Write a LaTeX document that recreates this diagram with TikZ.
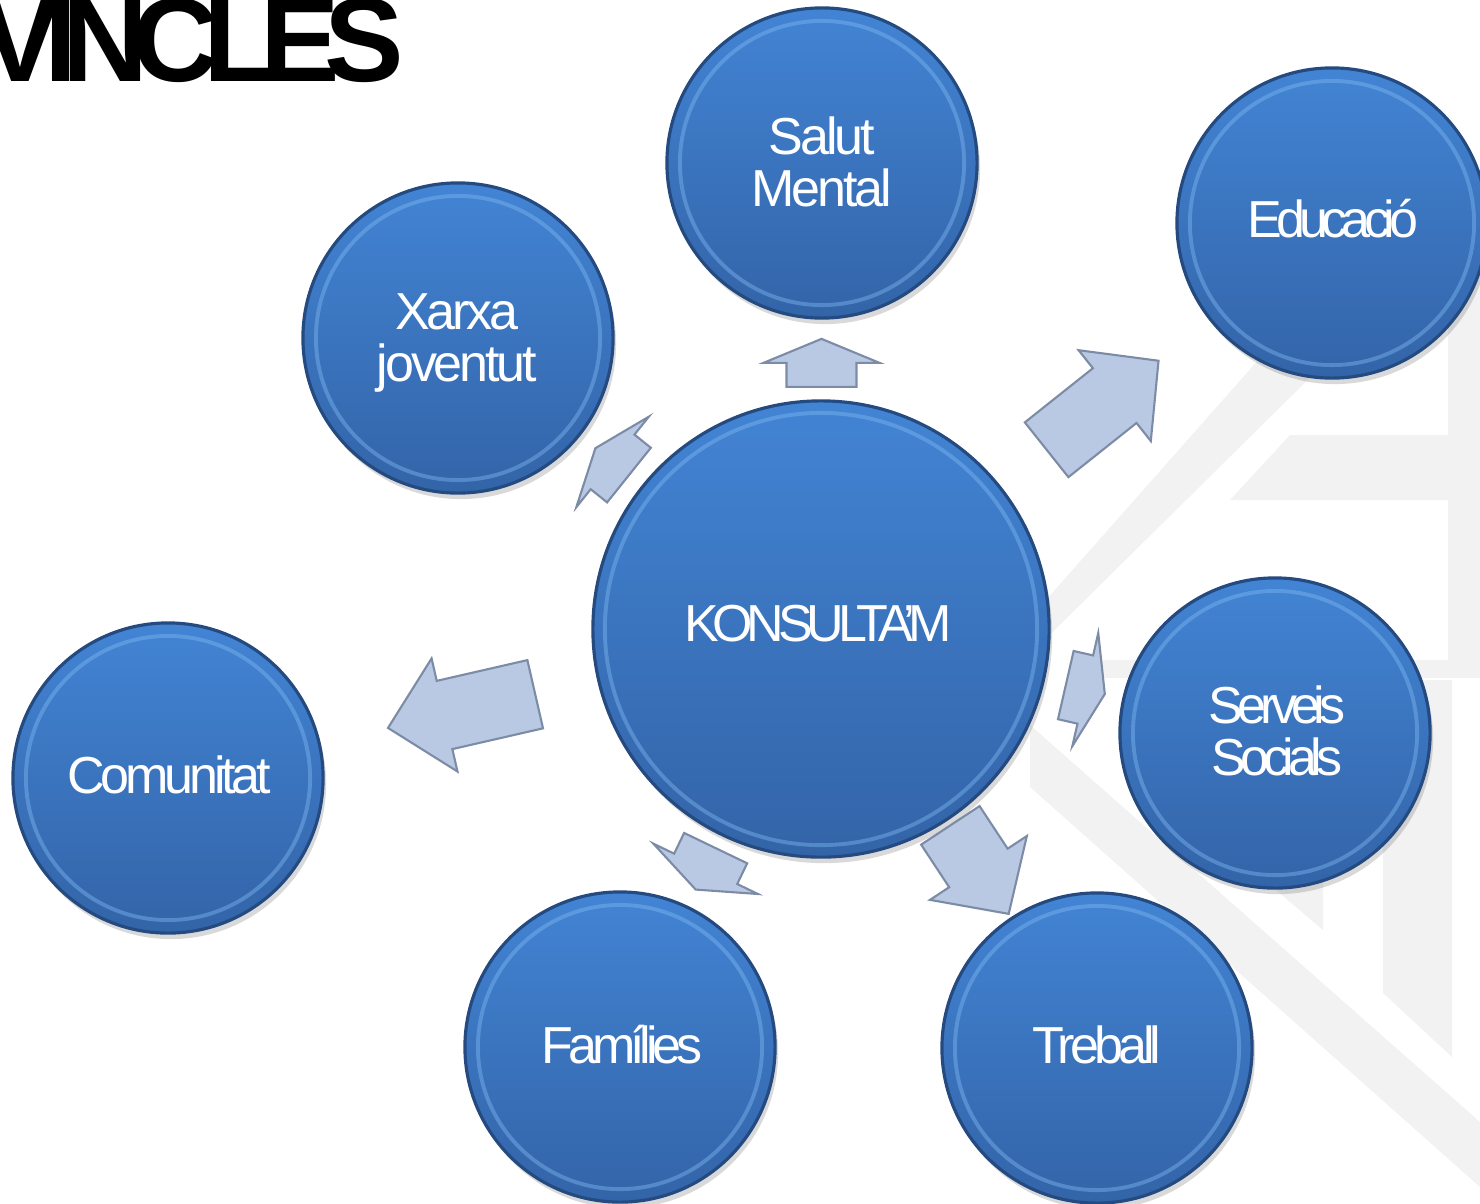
\documentclass[tikz,border=0pt]{standalone}
\usepackage{fontspec}
\setmainfont{Liberation Sans}
\usepackage{tikz}
\usetikzlibrary{calc,shadows}

\definecolor{bubbletop}{RGB}{66,132,212}
\definecolor{bubblebot}{RGB}{51,100,168}
\definecolor{bubbleedge}{RGB}{36,74,128}
\definecolor{bubblerim}{RGB}{125,182,240}
\definecolor{arrowfill}{RGB}{185,201,228}
\definecolor{arrowedge}{RGB}{125,140,166}
\definecolor{markgray}{RGB}{242,242,242}

\tikzset{
  bubble/.style={circle, draw=bubbleedge, line width=0.9pt,
    top color=bubbletop, bottom color=bubblebot,
    minimum size=3.1cm, inner sep=0pt, text=white, align=center,
    drop shadow={opacity=0.3, shadow xshift=0.03cm, shadow yshift=-0.06cm},
    path picture={\draw[bubblerim, line width=1.1pt, opacity=0.45]
      (path picture bounding box.center) circle[radius=1.42cm];}},
  bigbubble/.style={bubble, minimum size=4.56cm,
    path picture={\draw[bubblerim, line width=1.1pt, opacity=0.45]
      (path picture bounding box.center) circle[radius=2.16cm];}},
  lbl/.style={font=\fontsize{14.8pt}{14.8pt}\selectfont\addfontfeature{LetterSpace=#1}},
  lbl/.default=-10,
  arrowstyle/.style={fill=arrowfill, draw=arrowedge, line width=0.6pt, line join=miter},
  markband/.style={fill=markgray, draw=none}
}

% tail point, angle, length, head length
\newcommand{\blockarrow}[4]{%
  \filldraw[arrowstyle, shift={(#1)}, rotate=#2]
    (0,-35) -- ({#3-#4},-35) -- ({#3-#4},-58) -- (#3,0) -- ({#3-#4},58)
    -- ({#3-#4},35) -- (0,35) -- cycle;}

\begin{document}
\begin{tikzpicture}[x=0.01cm, y=-0.01cm]
\useasboundingbox (0,0) rectangle (1480,1203);
\clip (0,0) rectangle (1480,1203);

% faint background mark
\fill[markband] (1000,652) -- (1267,350) -- (1338,350) -- (1000,684) -- cycle;
\fill[markband] (1448,250) rectangle (1480,660);
\fill[markband] (1290,435) -- (1448,435) -- (1448,500) -- (1230,500) -- cycle;
\fill[markband] (1097,660) rectangle (1480,678);
\fill[markband] (1383,680) -- (1452,680) -- (1452,1057) -- (1383,993) -- cycle;
\fill[markband] (1270,680) -- (1323,680) -- (1323,930) -- (1270,885) -- cycle;
\fill[markband] (1030,725) -- (1480,1122) -- (1480,1187) -- (1030,787) -- cycle;

% title
\node[font=\fontsize{33.9pt}{34pt}\selectfont\bfseries\addfontfeature{LetterSpace=-13},
  anchor=base east, inner sep=0pt] (title) at (405,81) {VINCLES};

% bubbles
\node[bigbubble] (konsulta) at (821,629) {};
\node[bubble] (salut) at (822,163) {};
\node[bubble] (educ) at (1332,223) {};
\node[bubble] (xarxa) at (458,338) {};
\node[bubble] (comun) at (168,778) {};
\node[bubble] (serveis) at (1275,733) {};
\node[bubble] (famil) at (620,1047) {};
\node[bubble] (treball) at (1097,1048) {};

% labels
\node[lbl=-12, text=white] at (818,624) {KONSULTA’M};
\node[lbl=-6, text=white, align=center] at (822,162) {Salut\\Mental};
\node[lbl=-12, text=white] at (1333,219) {Educació};
\node[lbl=-6, text=white, align=center] at (457,343) {Xarxa\\joventut};
\node[lbl=-8, text=white] at (169,775) {Comunitat};
\node[lbl=-12, text=white, align=center] at (1277,731) {Serveis\\Socials};
\node[lbl=-10, text=white] at (622,1045) {Famílies};
\node[lbl=-9, text=white] at (1097,1045) {Treball};

% arrows
\blockarrow{$(konsulta)!2.42cm!(salut)$}{90}{48}{24}
\blockarrow{$(konsulta)!2.88cm!(educ)$}{38.5}{143}{56}
\blockarrow{$(konsulta)!2.46cm!(xarxa)$}{141.3}{43}{22}
\blockarrow{$(konsulta)!2.93cm!(comun)$}{192.9}{151}{58}
\blockarrow{$(konsulta)!2.51cm!(serveis)$}{-12.9}{40}{20}
\blockarrow{$(konsulta)!2.43cm!(famil)$}{-115.7}{46}{23}
\blockarrow{$(konsulta)!2.35cm!(treball)$}{-56.6}{106}{55}
\end{tikzpicture}
\end{document}
